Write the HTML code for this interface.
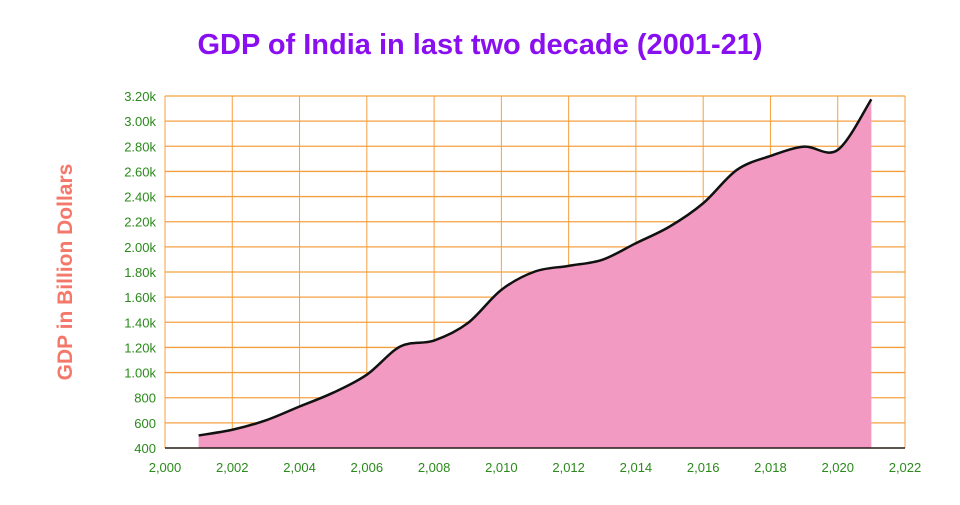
<!DOCTYPE html>
<html><head><meta charset="utf-8"><style>
body{margin:0;background:#fff;}
svg text{font-family:"Liberation Sans",sans-serif;}
</style></head><body>
<svg width="960" height="500" id="chart">
<text x="480" y="54" text-anchor="middle" font-size="29" font-weight="bold" fill="#8a0ff0">GDP of India in last two decade (2001-21)</text>
<text transform="translate(72,272) rotate(-90)" text-anchor="middle" font-size="21" font-weight="bold" fill="#f4786a">GDP in Billion Dollars</text>
<g id="grid"></g><g id="area"></g><g id="axes"></g>
</svg>
<script>
const years=[2001,2002,2003,2004,2005,2006,2007,2008,2009,2010,2011,2012,2013,2014,2015,2016,2017,2018,2019,2020,2021];
const gdp=[500,545,620,730,840,983,1208,1255,1393,1658,1804,1849,1897,2029,2161,2347,2612,2723,2797,2771,3174];
const xTicks=[2000,2002,2004,2006,2008,2010,2012,2014,2016,2018,2020,2022];
const yTicks=[400,600,800,1000,1200,1400,1600,1800,2000,2200,2400,2600,2800,3000,3200];
const yLabels=["400","600","800","1.00k","1.20k","1.40k","1.60k","1.80k","2.00k","2.20k","2.40k","2.60k","2.80k","3.00k","3.20k"];
const NS="http://www.w3.org/2000/svg";
const L=165,R=905,T=96,B=448;
const x=v=>L+(v-2000)/(2022-2000)*(R-L);
const y=v=>B-(v-400)/(3200-400)*(B-T);
function mk(tag,attrs,parent){const e=document.createElementNS(NS,tag);for(const k in attrs)e.setAttribute(k,attrs[k]);parent.appendChild(e);return e;}
const grid=document.getElementById('grid'),axes=document.getElementById('axes'),area=document.getElementById('area');
xTicks.forEach(t=>{
  const l=mk('line',{x1:x(t),x2:x(t),y1:T,y2:B,stroke:'#f5a040','stroke-width':1},grid);
  
  
  const tx=mk('text',{x:x(t),y:472,'text-anchor':'middle','font-size':13,fill:'#2a8a1a'},axes);
  tx.textContent=t.toLocaleString('en-US');
  
  
});
yTicks.forEach((t,i)=>{
  const l=mk('line',{x1:L,x2:R,y1:y(t),y2:y(t),stroke:'#f5a040','stroke-width':1.3},grid);
  
  
  const tx=mk('text',{x:156,y:y(t)+5,'text-anchor':'end','font-size':13,fill:'#2a8a1a'},axes);
  tx.textContent=yLabels[i];
  
  
});
const pts=years.map((v,i)=>[x(v),y(gdp[i])]);
let d=`M${pts[0][0]},${pts[0][1]}`;
for(let i=0;i<pts.length-1;i++){
  const p0=pts[Math.max(0,i-1)],p1=pts[i],p2=pts[i+1],p3=pts[Math.min(pts.length-1,i+2)];
  const c1=[p1[0]+(p2[0]-p0[0])/6,p1[1]+(p2[1]-p0[1])/6];
  const c2=[p2[0]-(p3[0]-p1[0])/6,p2[1]-(p3[1]-p1[1])/6];
  d+=` C${c1[0]},${c1[1]} ${c2[0]},${c2[1]} ${p2[0]},${p2[1]}`;
}
const a=mk('path',{d:d+` L${pts[pts.length-1][0]},${B} L${pts[0][0]},${B} Z`,fill:'#f39ac2'},area);


const ln=mk('path',{d:d,fill:'none',stroke:'#111','stroke-width':2.5},area);


const bx=mk('line',{x1:L,x2:R,y1:B,y2:B,stroke:'#000','stroke-width':1.3},axes);


</script>
</body></html>
